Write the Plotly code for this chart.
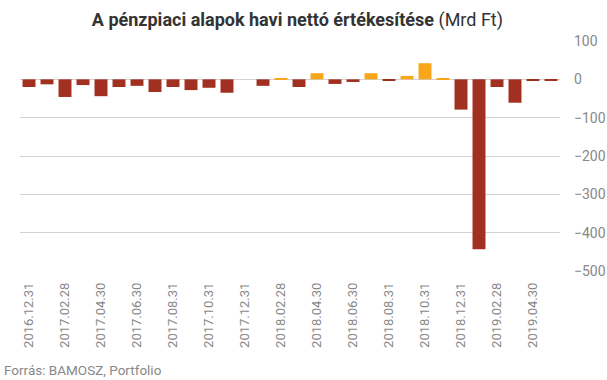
import plotly.graph_objects as go

dates = [
    "2016.12.31", "2017.01.31", "2017.02.28", "2017.03.31", "2017.04.30", "2017.05.31",
    "2017.06.30", "2017.07.31", "2017.08.31", "2017.09.30", "2017.10.31", "2017.11.30",
    "2017.12.31", "2018.01.31", "2018.02.28", "2018.03.31", "2018.04.30", "2018.05.31",
    "2018.06.30", "2018.07.31", "2018.08.31", "2018.09.30", "2018.10.31", "2018.11.30",
    "2018.12.31", "2019.01.31", "2019.02.28", "2019.03.31", "2019.04.30", "2019.05.31",
]
values = [
    -20, -13, -46, -15, -44, -20,
    -17, -33, -20, -28, -22, -35,
    0, -17, 3, -20, 16, -12,
    -7, 16, -2, 9, 42, 3,
    -79, -443, -20, -61, -2, -2,
]
tick_labels = dates[::2]

RED = "#A13020"
ORANGE = "#F9A61B"
colors = [ORANGE if v > 0 else RED for v in values]

fig = go.Figure(go.Bar(x=dates, y=values, marker=dict(color=colors, line=dict(width=0))))

fig.update_layout(
    width=607, height=380,
    margin=dict(l=20, r=47, t=41, b=109),
    paper_bgcolor="white", plot_bgcolor="white",
    bargap=0.28,
    showlegend=False,
    font=dict(family="Roboto", color="#888888"),
    title=dict(
        text="<b>A pénzpiaci alapok havi nettó értékesítése</b> (Mrd Ft)",
        x=0.49, xanchor="center", y=0.947, yanchor="middle",
        font=dict(family="Roboto", size=18, color="#333333"),
    ),
    xaxis=dict(
        type="category", automargin=False,
        tickmode="array", tickvals=tick_labels, ticktext=tick_labels,
        tickangle=-90, tickfont=dict(size=13, color="#888888"),
        showgrid=False, showline=False, ticks="",
        range=[-0.5, 29.5], ticklabelstandoff=8,
    ),
    yaxis=dict(
        side="right", automargin=False,
        range=[-500, 100], tickvals=[100, 0, -100, -200, -300, -400, -500],
        tickfont=dict(size=14, color="#888888"),
        showgrid=True, gridcolor="#d3d3d3", gridwidth=1,
        zeroline=True, zerolinecolor="#d3d3d3", zerolinewidth=1,
        ticks="", ticklabelstandoff=13,
    ),
    annotations=[dict(
        text="Forrás: BAMOSZ, Portfolio", xref="paper", yref="paper",
        x=0, xshift=-18, y=0, yshift=-99, xanchor="left", yanchor="middle",
        showarrow=False, font=dict(family="Roboto", size=13.5, color="#888888"),
    )],
)

fig.write_html(
    "out.html",
    config={"displayModeBar": False},
    post_script="document.body.style.margin='0';document.body.style.overflow='hidden';",
)
